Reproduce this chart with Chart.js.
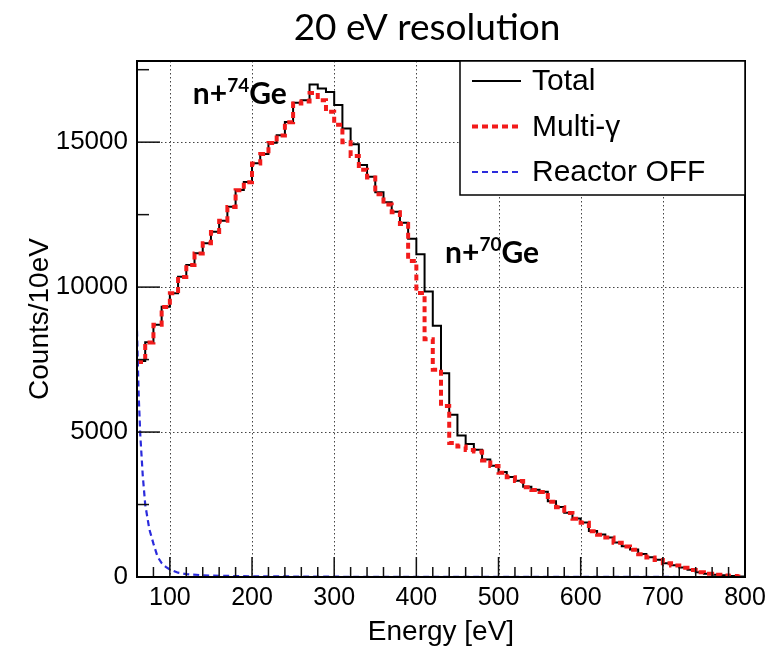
<!DOCTYPE html>
<html><head><meta charset="utf-8">
<script src="https://cdn.jsdelivr.net/npm/chart.js@4.4.1/dist/chart.umd.min.js"></script>
<style>html,body{margin:0;padding:0;background:#fff;}#wrap{width:773px;height:650px;}</style>
</head><body><div id="wrap"><canvas id="c" width="773" height="650"></canvas></div>
<script>
const chartTitle = '20 eV resolution';
const xTitle = 'Energy [eV]';
const yTitle = 'Counts/10eV';
const seriesNames = ['Total', 'Multi-\u03B3', 'Reactor OFF'];

// histogram bins (left edges, 10 eV wide) and the upper edge of the last bin
const binLow = [60,70,80,90,100,110,120,130,140,150,160,170,180,190,200,210,220,230,240,250,
  260,270,280,290,300,310,320,330,340,350,360,370,380,390,400,410,420,430,440,450,
  460,470,480,490,500,510,520,530,540,550,560,570,580,590,600,610,620,630,640,650,
  660,670,680,690,700,710,720,730,740,750,760,770,780,790];
const binTop = 800;

const totalCounts = [7450,8100,8700,9320,9790,10360,10760,11170,11510,11910,12290,12770,13350,13630,14270,14590,14980,15240,15700,16360,
  16450,16990,16850,16730,16280,15470,14930,14210,13810,13270,12930,12600,12220,11670,11130,9845,8670,7030,5600,4880,
  4590,4390,4050,3840,3620,3450,3320,3110,3010,2940,2612,2417,2220,2020,1877,1590,1464,1366,1188,1062,
  947,792,678,592,477,402,327,247,166,110,80,58,35,18];

const multiGammaCounts = [7420,8090,8700,9310,9790,10350,10760,11160,11510,11900,12290,12760,13340,13620,14260,14590,14970,15230,15690,16330,
  16400,16700,16450,16050,15600,15000,14520,14050,13780,13200,12850,12580,12180,10900,9800,8200,7150,5900,4620,4500,
  4380,4330,4020,3830,3600,3440,3310,3100,3000,2930,2600,2410,2210,2010,1870,1580,1455,1360,1180,1055,
  940,785,672,588,472,398,322,243,163,108,78,56,34,17];

const reactorOffEnergy = [60,62,64,67,70,75,80,85,90,95,100,110,120,140,160,200,300,400,500,600,700,800];
const reactorOffCounts = [8500,6300,4900,3500,2500,1650,1150,700,480,350,260,150,100,60,40,25,10,5,3,2,1,0];

const xRange = [60, 800];
const yRange = [0, 17800];
const xMajorTicks = [100,200,300,400,500,600,700,800];
const xMinorTicks = [80,120,140,160,180,220,240,260,280,320,340,360,380,420,440,460,480,520,540,560,580,620,640,660,680,720,740,760,780];
const yMajorTicks = [0,5000,10000,15000];
const yMinorTicks = [2500,7500,12500,17500];

const peakNotes = [
  {pre: 'n+', sup: '74', post: 'Ge', atE: 128, atV: 16330},
  {pre: 'n+', sup: '70', post: 'Ge', atE: 435, atV: 10830}
];

function histPoints(edges, top, vals) {
  const pts = edges.map((e, i) => ({x: e, y: vals[i]}));
  pts.push({x: top, y: vals[vals.length - 1]});
  return pts;
}

const TICK_FONT = '"Liberation Sans", Arial, Helvetica, sans-serif';

const rootStyle = {
  id: 'rootStyle',
  beforeDatasetsDraw(chart) {
    const {ctx, chartArea: a, scales: {x, y}} = chart;
    ctx.save();
    ctx.strokeStyle = '#444';
    ctx.lineWidth = 1;
    ctx.setLineDash([1.5, 2.5]);
    xMajorTicks.forEach(v => {
      if (v <= xRange[0] || v >= xRange[1]) return;
      const px = Math.round(x.getPixelForValue(v)) + 0.5;
      ctx.beginPath(); ctx.moveTo(px, a.top); ctx.lineTo(px, a.bottom); ctx.stroke();
    });
    yMajorTicks.forEach(v => {
      if (v <= yRange[0] || v >= yRange[1]) return;
      const py = Math.round(y.getPixelForValue(v)) + 0.5;
      ctx.beginPath(); ctx.moveTo(a.left, py); ctx.lineTo(a.right, py); ctx.stroke();
    });
    ctx.restore();
  },
  afterDatasetsDraw(chart) {
    const {ctx, chartArea: a, scales: {x, y}} = chart;
    ctx.save();
    ctx.strokeStyle = '#111';
    ctx.lineWidth = 1.5;
    ctx.setLineDash([]);
    const tk = (arr, len) => arr.forEach(v => {
      const px = x.getPixelForValue(v);
      ctx.beginPath(); ctx.moveTo(px, a.bottom); ctx.lineTo(px, a.bottom - len); ctx.stroke();
    });
    tk(xMajorTicks, 20); tk(xMinorTicks, 10);
    const tky = (arr, len) => arr.forEach(v => {
      const py = y.getPixelForValue(v);
      ctx.beginPath(); ctx.moveTo(a.left, py); ctx.lineTo(a.left + len, py); ctx.stroke();
    });
    tky(yMajorTicks, 23); tky(yMinorTicks, 12);
    ctx.lineWidth = 2;
    ctx.strokeStyle = '#000';
    ctx.strokeRect(a.left, a.top, a.right - a.left, a.bottom - a.top);
    ctx.restore();
  },
  afterDraw(chart) {
    const {ctx, chartArea: a, scales: {x, y}} = chart;
    ctx.save();
    // title
    ctx.fillStyle = '#000';
    ctx.font = '37px Lato, "Open Sans", sans-serif';
    ctx.textAlign = 'center';
    ctx.textBaseline = 'alphabetic';
    ctx.fillText(chartTitle, 427, 40);
    // peak notes
    peakNotes.forEach(n => {
      let px = x.getPixelForValue(n.atE);
      const py = y.getPixelForValue(n.atV);
      ctx.textAlign = 'left';
      ctx.font = 'bold 30px Lato, "Open Sans", sans-serif';
      ctx.fillText(n.pre, px, py);
      px += ctx.measureText(n.pre).width;
      ctx.font = 'bold 19px Lato, "Open Sans", sans-serif';
      ctx.fillText(n.sup, px, py - 12);
      px += ctx.measureText(n.sup).width;
      ctx.font = 'bold 30px Lato, "Open Sans", sans-serif';
      ctx.fillText(n.post, px, py);
    });
    // legend
    const lx = 460, ly = a.top, lw = a.right - lx, lh = 134;
    ctx.fillStyle = '#fff';
    ctx.fillRect(lx, ly, lw, lh);
    ctx.strokeStyle = '#000';
    ctx.lineWidth = 1.5;
    ctx.strokeRect(lx, ly, lw, lh);
    chart.data.datasets.forEach((ds, i) => {
      const cy = ly + 20 + i * 45.5;
      ctx.strokeStyle = ds.borderColor;
      ctx.lineWidth = ds.borderWidth;
      ctx.setLineDash(ds.borderDash || []);
      ctx.beginPath(); ctx.moveTo(472, cy); ctx.lineTo(521, cy); ctx.stroke();
      ctx.setLineDash([]);
      ctx.fillStyle = '#000';
      ctx.font = '30px ' + TICK_FONT;
      ctx.textAlign = 'left';
      ctx.textBaseline = 'middle';
      ctx.fillText(ds.label, 532, cy + 1);
    });
    ctx.restore();
  }
};

new Chart(document.getElementById('c'), {
  type: 'line',
  data: {
    datasets: [
      {label: seriesNames[0], data: histPoints(binLow, binTop, totalCounts), stepped: 'before',
       borderColor: '#000', borderWidth: 2, pointRadius: 0, fill: false, order: 3},
      {label: seriesNames[1], data: histPoints(binLow, binTop, multiGammaCounts), stepped: 'before',
       borderColor: '#f21b1b', borderWidth: 4, borderDash: [6, 4], pointRadius: 0, fill: false, order: 2},
      {label: seriesNames[2], data: reactorOffEnergy.map((e, i) => ({x: e, y: reactorOffCounts[i]})),
       borderColor: '#2b2bdc', borderWidth: 2.2, borderDash: [6, 4], pointRadius: 0, fill: false, order: 1, tension: 0}
    ]
  },
  options: {
    responsive: false,
    devicePixelRatio: 1,
    animation: false,
    layout: {padding: {top: 61, right: 28, left: 0, bottom: 0}},
    plugins: {legend: {display: false}, tooltip: {enabled: false}, title: {display: false}},
    scales: {
      x: {
        type: 'linear', min: xRange[0], max: xRange[1],
        afterBuildTicks: s => { s.ticks = xMajorTicks.map(v => ({value: v})); },
        afterFit: s => { s.height = 73; },
        grid: {display: false, drawTicks: false},
        border: {display: false},
        ticks: {color: '#000', font: {family: TICK_FONT, size: 25}, padding: 6, maxRotation: 0, autoSkip: false,
                callback: v => String(v)},
        title: {display: true, text: xTitle, color: '#000', font: {family: TICK_FONT, size: 28}, padding: {top: 0, bottom: 1}}
      },
      y: {
        type: 'linear', min: yRange[0], max: yRange[1],
        afterBuildTicks: s => { s.ticks = yMajorTicks.map(v => ({value: v})); },
        afterFit: s => { s.width = 137; },
        grid: {display: false, drawTicks: false},
        border: {display: false},
        ticks: {color: '#000', font: {family: TICK_FONT, size: 26}, padding: 9, autoSkip: false,
                callback: v => String(v)},
        title: {display: true, text: yTitle, color: '#000', font: {family: TICK_FONT, size: 28}, padding: {top: 23, bottom: 0}}
      }
    }
  },
  plugins: [rootStyle]
});
</script></body></html>
